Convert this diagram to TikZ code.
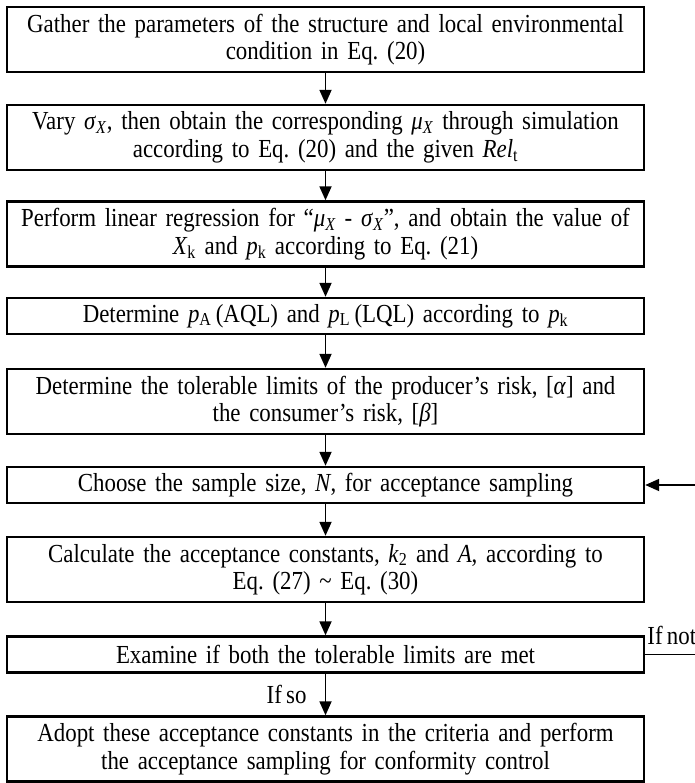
\documentclass[tikz,border=0pt]{standalone}
\usepackage{fontspec}
\setmainfont{Liberation Serif}[FakeStretch=0.88,WordSpace=0.75]
\usetikzlibrary{arrows.meta}
\newcommand\lowidx[1]{\textsubscript{#1}}
\frenchspacing
\begin{document}
\begin{tikzpicture}[x=1pt,y=-1pt,
  box/.style={draw,line width=2.4pt,minimum width=637pt,text width=636pt,align=center,inner sep=0pt,font=\fontsize{26}{27.5}\selectfont},
  two/.style={minimum height=65pt},
  one/.style={minimum height=36pt},
  arr/.style={line width=1.8pt,-{Triangle[length=14pt,width=12pt]}},
  lbl/.style={font=\fontsize{26}{27.5}\selectfont,inner sep=1pt}]
\useasboundingbox (0,0) rectangle (694,783);
\node[box,two] (b1) at (325.5,39.5) {Gather the parameters of the structure and local environmental\\ condition in Eq. (20)};
\node[box,two] (b2) at (325.5,137.5) {Vary \textit{σ}\lowidx{\textit{X}}, then obtain the corresponding \textit{μ}\lowidx{\textit{X}} through simulation\\ according to Eq. (20) and the given \textit{Rel}\lowidx{t}};
\node[box,two] (b3) at (325.5,234) {Perform linear regression for “\textit{μ}\lowidx{\textit{X}} - \textit{σ}\lowidx{\textit{X}}”, and obtain the value of\\ \textit{X}\lowidx{k} and \textit{p}\lowidx{k} according to Eq. (21)};
\node[box,one] (b4) at (325.5,316) {Determine \textit{p}\lowidx{A}\,(AQL) and \textit{p}\lowidx{L}\,(LQL) according to \textit{p}\lowidx{k}};
\node[box,two] (b5) at (325.5,401.5) {Determine the tolerable limits of the producer’s risk, [\textit{α}] and\\ the consumer’s risk, [\textit{β}]};
\node[box,one] (b6) at (325.5,485) {Choose the sample size, \textit{N}, for acceptance sampling};
\node[box,two] (b7) at (325.5,569.5) {Calculate the acceptance constants, \textit{k}\lowidx{2} and \textit{A}, according to\\ Eq. (27) \textasciitilde\ Eq. (30)};
\node[box,one] (b8) at (325.5,654.5) {Examine if both the tolerable limits are met};
\node[box,two] (b9) at (325.5,749) {Adopt these acceptance constants in the criteria and perform\\ the acceptance sampling for conformity control};
\draw[arr] (b1) -- (b2);
\draw[arr] (b2) -- (b3);
\draw[arr] (b3) -- (b4);
\draw[arr] (b4) -- (b5);
\draw[arr] (b5) -- (b6);
\draw[arr] (b6) -- (b7);
\draw[arr] (b7) -- (b8);
\draw[arr] (b8) -- node[lbl,left=17pt] (so) {If so} (b9);
\coordinate (loop) at (740,0);
\draw[arr] (b8.east) -- (b8.east -| loop) |- (b6.east);
\node[lbl,anchor=base west,inner sep=0pt] (not) at ([xshift=2pt,yshift=10pt]b8.east) {If not};
\end{tikzpicture}
\end{document}
